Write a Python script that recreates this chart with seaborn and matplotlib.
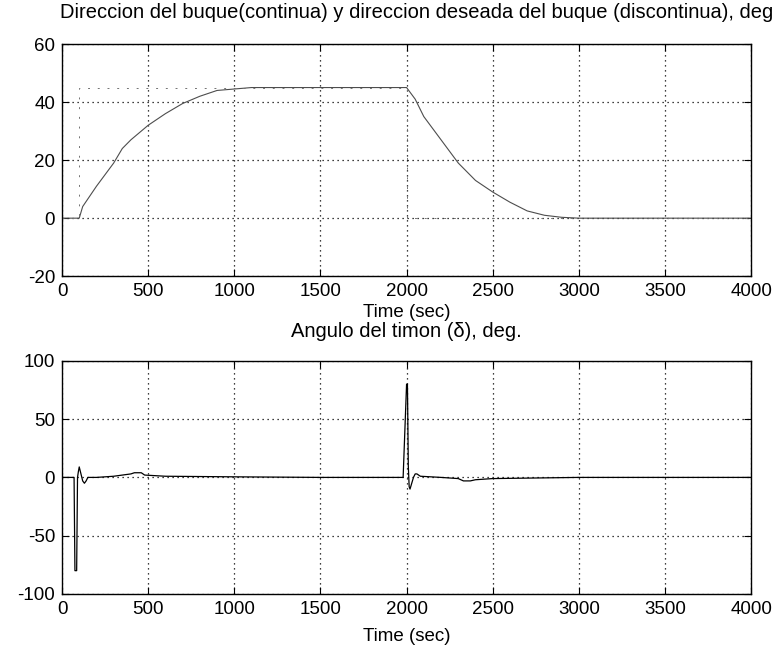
import matplotlib
matplotlib.use("Agg")
import matplotlib.pyplot as plt
import seaborn as sns
import pandas as pd

# Ship heading (solid) and desired heading (dashed), degrees
heading_t = [0, 100, 120, 200, 250, 300, 350, 400, 500, 600, 700, 800, 900, 1000,
             1100, 1200, 1500, 2000, 2050, 2100, 2200, 2300, 2400, 2500, 2600,
             2700, 2800, 2900, 3000, 3500, 4000]
heading = [0, 0, 4, 11, 15, 19, 24, 27, 32, 36, 39.5, 42, 44, 44.5,
           45, 45, 45, 45, 41, 35, 27, 19, 13, 9, 5.5,
           2.5, 1, 0.3, 0, 0, 0]
desired_t = [0, 100, 100, 2000, 2000, 4000]
desired = [0, 0, 45, 45, 0, 0]

# Rudder angle (delta), degrees
rudder_t = [0, 70, 75, 85, 90, 95, 100, 110, 120, 130, 140, 150, 160, 200, 300,
            350, 400, 420, 460, 480, 600, 1000, 1500, 1980, 1990, 2000, 2005,
            2010, 2015, 2020, 2040, 2050, 2060, 2080, 2200, 2300, 2330, 2370,
            2400, 2500, 3000, 4000]
rudder = [0, 0, -80, -80, 0, 5, 9, 3, -3, -5, -3, 0, 0, 0, 1,
          2, 3, 4, 4, 2, 1, 0.5, 0, 0, 40, 80, 80,
          10, -8, -10, 0, 3, 3, 1, 0, -1, -3, -3,
          -2, -1, 0, 0]

x_ticks = [0, 500, 1000, 1500, 2000, 2500, 3000, 3500, 4000]
top_yticks = [-20, 0, 20, 40, 60]
bot_yticks = [-100, -50, 0, 50, 100]

sns.set_style("white")
plt.rcParams["font.family"] = ["Liberation Sans", "DejaVu Sans"]
plt.rcParams["axes.unicode_minus"] = False
plt.rcParams["text.color"] = "k"
plt.rcParams["axes.labelcolor"] = "k"

fig = plt.figure(figsize=(7.8, 6.53), dpi=100)
ax1 = fig.add_axes([0.0795, 0.577, 0.8835, 0.3556])
ax2 = fig.add_axes([0.0795, 0.0904, 0.8835, 0.357])

df_h = pd.DataFrame({"t": heading_t, "v": heading})
df_d = pd.DataFrame({"t": desired_t, "v": desired})
df_r = pd.DataFrame({"t": rudder_t, "v": rudder})

sns.lineplot(data=df_h, x="t", y="v", ax=ax1, color="0.3", lw=0.8,
             estimator=None, sort=False)
sns.lineplot(data=df_d, x="t", y="v", ax=ax1, color="0.45", lw=0.7,
             ls=(0, (2, 8)), estimator=None, sort=False)
sns.lineplot(data=df_r, x="t", y="v", ax=ax2, color="k", lw=0.9,
             estimator=None, sort=False)

tick_fs = 13.5
label_fs = 13.5
title_fs = 14.5
for ax, yt in ((ax1, top_yticks), (ax2, bot_yticks)):
    ax.set_xlim(0, 4000)
    ax.set_ylim(yt[0], yt[-1])
    ax.set_xticks(x_ticks)
    ax.set_yticks(yt)
    ax.grid(True, ls=(0, (1, 3)), color="k", lw=0.9)
    ax.tick_params(direction="in", length=5, labelsize=tick_fs, colors="k",
                   top=True, right=True, bottom=True, left=True, pad=5)
    for s in ax.spines.values():
        s.set_color("k")
        s.set_linewidth(1.0)
    ax.set_ylabel("")

ax1.set_xlabel("Time (sec)", fontsize=label_fs, labelpad=3, color="k")
ax2.set_xlabel("Time (sec)", fontsize=label_fs, labelpad=7, color="k")

ax1.set_title("Direccion del buque(continua) y direccion deseada del buque (discontinua), deg",
              fontsize=title_fs, pad=19, x=0.515, color="k")
ax2.set_title("Angulo del timon (δ), deg.", fontsize=title_fs, pad=17, color="k")

fig.savefig("out.png", dpi=100, facecolor="white")
